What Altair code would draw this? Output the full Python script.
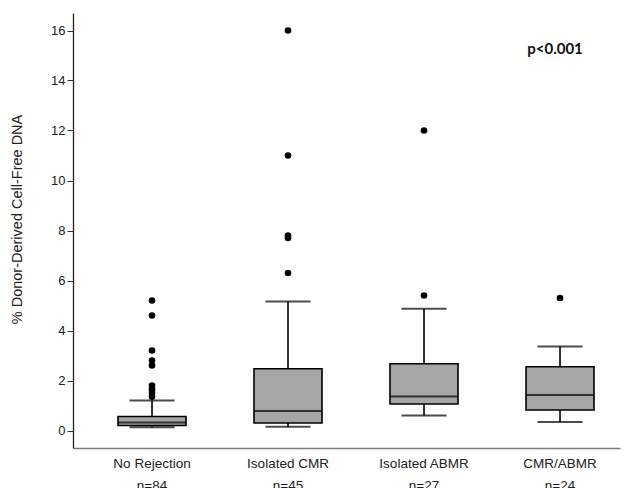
import altair as alt
import pandas as pd

groups = ["No Rejection", "Isolated CMR", "Isolated ABMR", "CMR/ABMR"]
ns = [84, 45, 27, 24]
lower = [0.13, 0.15, 0.60, 0.34]
q1 = [0.20, 0.30, 1.06, 0.82]
median = [0.32, 0.78, 1.36, 1.42]
q3 = [0.56, 2.47, 2.67, 2.55]
upper = [1.20, 5.16, 4.87, 3.36]

out_no_rejection = [5.2, 4.6, 3.2, 2.8, 2.6, 1.8, 1.65, 1.5, 1.35]
out_cmr = [16.0, 11.0, 7.8, 7.7, 6.3]
out_abmr = [12.0, 5.4]
out_both = [5.3]

y_ticks = [0, 2, 4, 6, 8, 10, 12, 14, 16]
p_label = "p<0.001"
p_y = 15.25

stats = pd.DataFrame({"group": groups, "n": ns, "lower": lower, "q1": q1,
                      "median": median, "q3": q3, "upper": upper})
caps = pd.DataFrame({"group": groups * 2, "value": lower + upper})
outs = pd.DataFrame({
    "group": [groups[0]] * len(out_no_rejection) + [groups[1]] * len(out_cmr)
             + [groups[2]] * len(out_abmr) + [groups[3]] * len(out_both),
    "value": out_no_rejection + out_cmr + out_abmr + out_both,
})
ann = pd.DataFrame({"group": [groups[3]], "value": [p_y], "text": [p_label]})

label_expr = ""
for g, n in zip(groups, ns):
    label_expr += f"datum.label == '{g}' ? ['{g}', 'n={n}'] : "
label_expr += "datum.label"

FONT = "Liberation Sans, Arial, sans-serif"

x_axis = alt.Axis(title=None, labelAngle=0, ticks=False, domainColor="#7a7a7a",
                  domainWidth=1.6, labelExpr=label_expr, labelFontSize=13.5,
                  labelLineHeight=22, labelPadding=8, labelColor="#222",
                  labelFont=FONT, labelBaseline="top")
x_scale = alt.Scale(domain=groups, paddingInner=0.5, paddingOuter=0.261, align=0.634)
y_axis = alt.Axis(title="% Donor-Derived Cell-Free DNA", values=y_ticks, grid=False,
                  tickSize=6, tickColor="#333", domainColor="#222", domainWidth=1.3,
                  labelFontSize=13, labelColor="#222", labelFont=FONT, labelPadding=2,
                  titleFont=FONT, titleFontSize=14.5, titleFontWeight="normal",
                  titleColor="#222", titleX=-52, titleY=206, titleBaseline="alphabetic")
y_scale = alt.Scale(domain=[-0.7, 16.7], nice=False, zero=False)


def X():
    return alt.X("group:N", sort=groups, scale=x_scale, axis=x_axis)


def Y(field):
    return alt.Y(f"{field}:Q", scale=y_scale, axis=y_axis)


whisker = alt.Chart(stats).mark_rule(color="black", strokeWidth=1.6).encode(
    x=X(), y=Y("lower"), y2="upper:Q")
box = alt.Chart(stats).mark_bar(size=68, fill="#a6a6a6", stroke="black",
                                strokeWidth=1.6).encode(x=X(), y=Y("q1"), y2="q3:Q")
med = alt.Chart(stats).mark_tick(size=68, thickness=2, color="black").encode(
    x=X(), y=Y("median"))
cap = alt.Chart(caps).mark_tick(size=45, thickness=2, color="black").encode(
    x=X(), y=Y("value"))
pts = alt.Chart(outs).mark_circle(size=44, color="black", opacity=1).encode(
    x=X(), y=Y("value"))
txt = alt.Chart(ann).mark_text(font="Lato", fontWeight="bold", fontSize=15,
                               color="#111", dx=-5).encode(
    x=X(), y=Y("value"), text="text:N")

chart = alt.layer(whisker, box, med, cap, pts, txt).properties(
    width=547, height=435,
    autosize=alt.AutoSizeParams(type="none"),
    padding={"left": 65, "top": 5, "right": 3, "bottom": 40},
).configure_view(stroke=None)

chart.save("out.html", embed_options={"renderer": "svg", "actions": False})
